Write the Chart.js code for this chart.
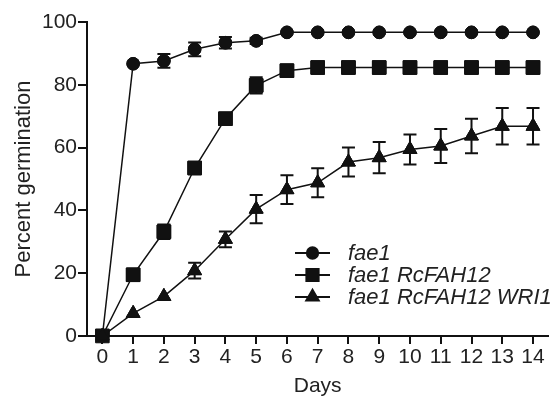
<!DOCTYPE html>
<html>
<head>
<meta charset="utf-8">
<script src="https://cdn.jsdelivr.net/npm/chart.js@4.4.1/dist/chart.umd.min.js"></script>
<style>
  html, body { margin: 0; padding: 0; background: #fff; }
  #wrap { width: 559px; height: 399px; }
</style>
</head>
<body>
<div id="wrap"><canvas id="chart"></canvas></div>
<script>
// Days after sowing
const days = [0, 1, 2, 3, 4, 5, 6, 7, 8, 9, 10, 11, 12, 13, 14];

// Percent germination
const fae1 = [0, 86.7, 87.6, 91.3, 93.4, 94, 96.7, 96.7, 96.7, 96.7, 96.7, 96.7, 96.7, 96.7, 96.7];
const fae1Err = [0, 0, 2.2, 2.2, 1.8, 1, 0, 0, 0, 0, 0, 0, 0, 0, 0];

const rcFah12 = [0, 19.5, 33.2, 53.5, 69.2, 79.8, 84.5, 85.5, 85.5, 85.5, 85.5, 85.5, 85.5, 85.5, 85.5];
const rcFah12Err = [0, 0, 2.3, 0, 0, 2.6, 0, 0, 0, 0, 0, 0, 0, 0, 0];

const wri1 = [0, 7.2, 12.6, 20.8, 30.8, 40.4, 46.6, 48.8, 55.4, 56.8, 59.4, 60.5, 63.7, 66.8, 66.8];
const wri1Err = [0, 0, 0, 2.5, 2.5, 4.5, 4.6, 4.6, 4.6, 5, 4.8, 5.4, 5.5, 5.8, 5.8];

const legendLabels = ['fae1', 'fae1 RcFAH12', 'fae1 RcFAH12 WRI1'];

const ink = '#111';
const fontFamily = '"Liberation Sans", Arial, sans-serif';

// vertical error bars with caps, markers redrawn on top
const errorBars = {
    id: 'errorBars',
    afterDatasetsDraw(chart) {
        const ctx = chart.ctx;
        const y = chart.scales.y;
        ctx.save();
        ctx.strokeStyle = ink;
        ctx.lineWidth = 2;
        chart.data.datasets.forEach((ds, i) => {
            const meta = chart.getDatasetMeta(i);
            ds.errors.forEach((e, j) => {
                if (!e) return;
                const x = meta.data[j].x;
                const top = y.getPixelForValue(ds.data[j] + e);
                const bot = y.getPixelForValue(ds.data[j] - e);
                ctx.beginPath();
                ctx.moveTo(x, top); ctx.lineTo(x, bot);
                ctx.moveTo(x - 6.5, top); ctx.lineTo(x + 6.5, top);
                ctx.moveTo(x - 6.5, bot); ctx.lineTo(x + 6.5, bot);
                ctx.stroke();
            });
        });
        chart.data.datasets.forEach((ds, i) => {
            chart.getDatasetMeta(i).data.forEach(pt => pt.draw(ctx, chart.chartArea));
        });
        ctx.restore();
    }
};

// legend inside the plot: short line with marker, italic label
const insideLegend = {
    id: 'insideLegend',
    afterDraw(chart) {
        const ctx = chart.ctx;
        const area = chart.chartArea;
        const x0 = area.left + 208;
        const y0 = area.top + 231;
        const rowH = 22;
        ctx.save();
        chart.data.datasets.forEach((ds, i) => {
            const yy = y0 + i * rowH;
            ctx.strokeStyle = ink;
            ctx.lineWidth = 2;
            ctx.beginPath();
            ctx.moveTo(x0, yy);
            ctx.lineTo(x0 + 35, yy);
            ctx.stroke();
            ctx.fillStyle = ink;
            Chart.helpers.drawPoint(ctx, {
                pointStyle: ds.pointStyle,
                radius: ds.pointRadius * 0.9,
                rotation: 0,
                borderWidth: 1
            }, x0 + 17.5, yy);
            ctx.fillStyle = '#222';
            ctx.font = 'italic 22px ' + fontFamily;
            ctx.textBaseline = 'middle';
            ctx.fillText(legendLabels[i], x0 + 53, yy + 1);
        });
        ctx.restore();
    }
};

function series(data, errors, style, radius) {
    return {
        data: data,
        errors: errors,
        borderColor: ink,
        borderWidth: 1.5,
        backgroundColor: ink,
        pointStyle: style,
        pointRadius: radius,
        pointBackgroundColor: ink,
        pointBorderColor: ink,
        pointBorderWidth: 1,
        tension: 0
    };
}

new Chart(document.getElementById('chart'), {
    type: 'line',
    data: {
        labels: days,
        datasets: [
            series(fae1, fae1Err, 'circle', 6.3),
            series(rcFah12, rcFah12Err, 'rect', 9.6),
            series(wri1, wri1Err, 'triangle', 8)
        ]
    },
    options: {
        responsive: true,
        maintainAspectRatio: false,
        animation: false,
        layout: { padding: { top: 22, right: 3, left: 0, bottom: 0 } },
        plugins: {
            legend: { display: false },
            tooltip: { enabled: false }
        },
        scales: {
            x: {
                type: 'category',
                offset: true,
                grid: {
                    offset: false,
                    drawOnChartArea: false,
                    drawTicks: true,
                    tickLength: 8,
                    color: ink,
                    lineWidth: 2
                },
                border: { color: ink, width: 2 },
                ticks: {
                    color: '#222',
                    padding: 1,
                    maxRotation: 0,
                    autoSkip: false,
                    font: { family: fontFamily, size: 21 }
                },
                title: {
                    display: true,
                    text: 'Days',
                    color: '#222',
                    padding: { top: 2, bottom: 0 },
                    font: { family: fontFamily, size: 21 }
                },
                afterFit(scale) { scale.height = 63; }
            },
            y: {
                min: 0,
                max: 100,
                grid: {
                    drawOnChartArea: false,
                    drawTicks: true,
                    tickLength: 9,
                    color: ink,
                    lineWidth: 2
                },
                border: { color: ink, width: 2 },
                ticks: {
                    stepSize: 20,
                    color: '#222',
                    padding: 1,
                    font: { family: fontFamily, size: 21 }
                },
                title: {
                    display: true,
                    text: 'Percent germination',
                    color: '#222',
                    padding: { top: 11, bottom: 0 },
                    font: { family: fontFamily, size: 22 }
                },
                afterFit(scale) { scale.width = 87; }
            }
        }
    },
    plugins: [errorBars, insideLegend]
});
</script>
</body>
</html>
